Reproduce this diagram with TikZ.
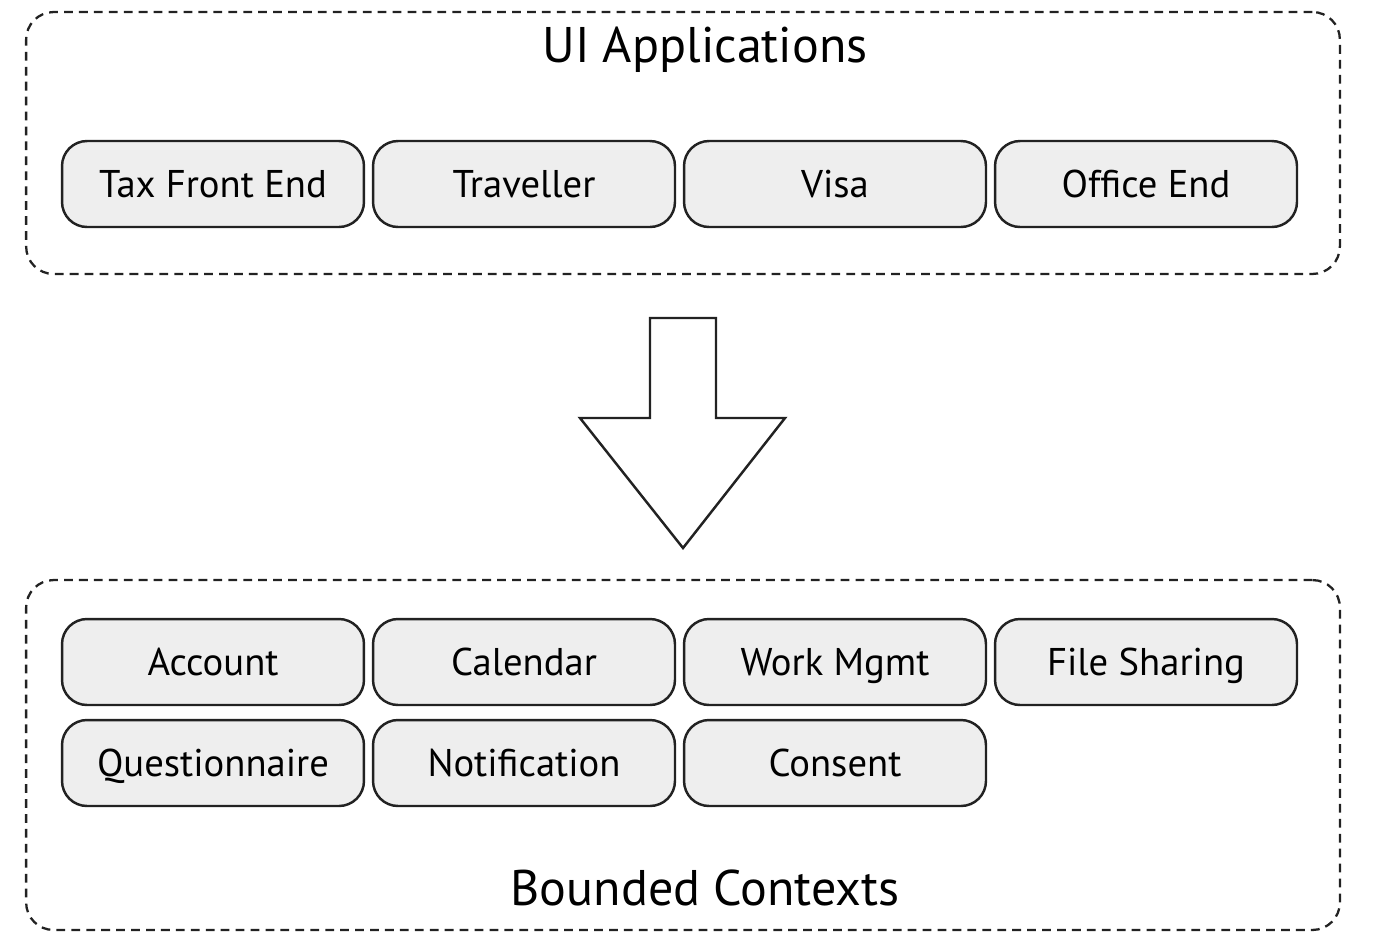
\documentclass[tikz,border=0pt]{standalone}
\usepackage{fontspec}
\setmainfont{PT Sans}
\usetikzlibrary{positioning}
\definecolor{boxfill}{HTML}{EEEEEE}
\definecolor{linegray}{HTML}{222222}

\begin{document}
\begin{tikzpicture}[
  x=0.02cm, y=-0.02cm,
  ctx/.style={draw=linegray, fill=boxfill, line width=1.4pt, rounded corners=0.5cm, minimum width=6.04cm, minimum height=1.72cm, align=center, text height=15.4pt, text depth=0pt, font=\fontsize{22}{26}\selectfont},
  group/.style={draw=linegray, line width=1.3pt, dash pattern=on 5pt off 3.5pt, rounded corners=0.55cm, inner sep=0pt},
  title/.style={font=\fontsize{28.5}{32}\selectfont},
]
\useasboundingbox (0,0) rectangle (1398,948);

% Containers
\node[group, minimum width=26.28cm, minimum height=5.24cm] (uiapps) at (683,143) {};
\node[group, minimum width=26.28cm, minimum height=7cm] (bctx) at (683,755) {};
\node[title] (uititle) at (705,50) {UI Applications};
\node[title] (bctitle) at (705,888) {Bounded Contexts};

% UI applications
\node[ctx] (taxfe) at (213,184) {Tax Front End};
\node[ctx] (traveller) at (524,184) {Traveller};
\node[ctx] (visa) at (835,184) {Visa};
\node[ctx] (officeend) at (1146,184) {Office End};

% Bounded contexts
\node[ctx] (account) at (213,662) {Account};
\node[ctx] (calendar) at (524,662) {Calendar};
\node[ctx] (workmgmt) at (835,662) {Work Mgmt};
\node[ctx] (filesharing) at (1146,662) {File Sharing};
\node[ctx] (questionnaire) at (213,763) {Questionnaire};
\node[ctx] (notification) at (524,763) {Notification};
\node[ctx] (consent) at (835,763) {Consent};

% Big arrow
\draw[linegray, line width=1.4pt, line join=miter]
  (650,318) -- (716,318) -- (716,418) -- (785,418) -- (683,548)
  -- (580,418) -- (650,418) -- cycle;

\end{tikzpicture}
\end{document}
